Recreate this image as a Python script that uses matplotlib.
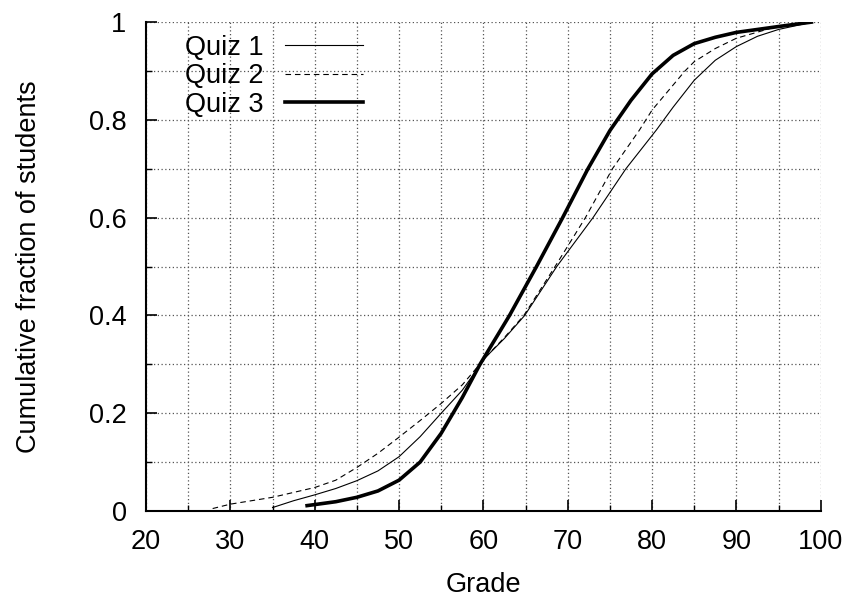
import matplotlib
matplotlib.use("Agg")
import matplotlib.pyplot as plt
from matplotlib.ticker import MultipleLocator

plt.rcParams['font.family'] = ['Liberation Sans', 'DejaVu Sans']

# values
quiz1_x = [35.0, 37.5, 40, 42.5, 45, 47.5, 50, 52.5, 55, 57.5, 60.3, 62.5, 64.9,
           68.7, 73.0, 76.9, 80.5, 82.5, 85, 87.5, 90, 92.5, 95, 99]
quiz1_y = [0.007, 0.021, 0.033, 0.046, 0.062, 0.082, 0.111, 0.152, 0.2, 0.247, 0.315, 0.353, 0.4,
           0.5, 0.6, 0.7, 0.779, 0.826, 0.881, 0.922, 0.95, 0.971, 0.985, 1.0]

quiz2_x = [27.9, 30, 35, 40, 42.5, 45, 47.5, 50, 52.5, 55, 57.5, 60.3, 62.5, 64.8,
           68.5, 72.1, 75.3, 78.5, 80, 83.9, 85, 87.5, 90, 95, 99]
quiz2_y = [0.005, 0.014, 0.028, 0.048, 0.063, 0.089, 0.118, 0.151, 0.185, 0.22, 0.258, 0.315, 0.355, 0.4,
           0.5, 0.6, 0.7, 0.779, 0.82, 0.9, 0.919, 0.946, 0.967, 0.992, 1.0]

quiz3_x = [39.1, 42.5, 45, 47.5, 50, 52.5, 55, 57.5, 59.6, 63.1, 66.3, 69.4, 72.4,
           75, 77.5, 80, 82.5, 85, 87.5, 90, 95, 98.9]
quiz3_y = [0.011, 0.019, 0.028, 0.041, 0.063, 0.1, 0.159, 0.232, 0.3, 0.4, 0.5, 0.6, 0.7,
           0.778, 0.84, 0.894, 0.932, 0.956, 0.969, 0.979, 0.991, 1.0]

labels = ["Quiz 1", "Quiz 2", "Quiz 3"]

fs = 19.5

fig = plt.figure(figsize=(8.54, 5.98), dpi=100)
ax = fig.add_axes([0.171, 0.1455, 0.79, 0.8175])

ax.plot(quiz1_x, quiz1_y, color='black', lw=0.8, label=labels[0])
ax.plot(quiz2_x, quiz2_y, color='black', lw=0.8, ls=(0, (5, 3.5)), label=labels[1])
ax.plot(quiz3_x, quiz3_y, color='black', lw=2.6, label=labels[2])

ax.set_xlim(20, 100)
ax.set_ylim(0, 1)
ax.xaxis.set_major_locator(MultipleLocator(10))
ax.xaxis.set_minor_locator(MultipleLocator(5))
ax.yaxis.set_minor_locator(MultipleLocator(0.1))
ax.set_yticks([0, 0.2, 0.4, 0.6, 0.8, 1.0])
ax.set_yticklabels(["0", "0.2", "0.4", "0.6", "0.8", "1"])

ax.grid(which='both', ls=(0, (1, 2)), color='#555555', lw=0.9)
ax.set_axisbelow(True)
ax.tick_params(which='major', direction='in', length=8, width=1.2, labelsize=fs)
ax.tick_params(axis='x', which='major', pad=13)
ax.tick_params(axis='y', which='major', pad=14)
ax.tick_params(which='minor', direction='in', length=4, width=1.0)
ax.spines['top'].set_visible(False)
ax.spines['right'].set_visible(False)
ax.spines['left'].set_linewidth(1.5)
ax.spines['bottom'].set_linewidth(1.5)

ax.set_xlabel("Grade", fontsize=fs, labelpad=12)
ax.set_ylabel("Cumulative fraction of students", fontsize=fs, labelpad=34)

leg = ax.legend(loc='upper left', bbox_to_anchor=(0.058, 0.974), frameon=False,
                markerfirst=False, fontsize=fs, handlelength=2.87,
                handletextpad=0.8, labelspacing=0.09, borderaxespad=0, borderpad=0)

fig.savefig("out.png", dpi=100)
